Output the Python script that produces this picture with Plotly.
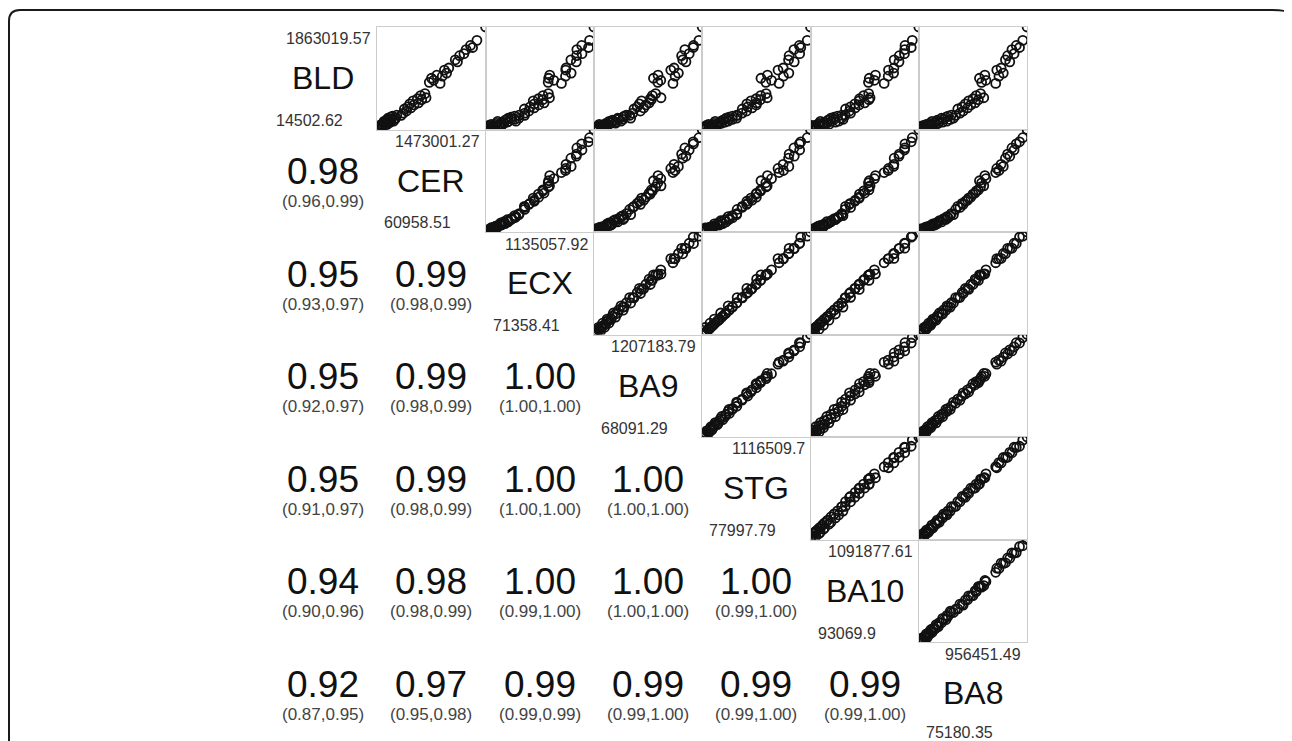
import plotly.graph_objects as go

# ---------------- data (values in thousands) ----------------
names = ["BLD", "CER", "ECX", "BA9", "STG", "BA10", "BA8"]

BLD_k = [14.50262, 51.5, 33.0, 70.0, 49.0, 35.5, 88.4, 54.0, 67.2, 106.9, 46.8, 91.0, 72.5,
         125.4, 85.6, 109.5, 162.4, 93.7, 143.9, 104.0, 180.9, 128.0, 159.5, 217.8, 146.5,
         199.4, 236.3, 165.0, 254.8, 196.5, 273.3, 220.6, 270.0, 384.2, 310.3, 421.2, 347.2,
         476.6, 402.7, 532.1, 458.1, 569.1, 495.1, 624.5, 550.6, 661.5, 587.5, 938.8, 864.8,
         994.2, 901.8, 846.3, 1086.6, 975.7, 1123.6, 1031.2, 1271.5, 1345.4, 1234.5, 1456.3,
         1382.4, 1530.3, 1493.3, 1622.7, 1863.01957]

CER_k = [60.95851, 75.1, 103.3, 89.2, 77.0, 101.0, 91.5, 117.4, 87.0, 119.8, 131.6, 105.6, 129.0,
         145.7, 134.2, 159.8, 148.3, 173.9, 157.1, 188.0, 176.5, 202.2, 216.3, 199.5, 230.4,
         244.5, 233.0, 272.8, 258.6, 286.9, 315.1, 301.0, 371.6, 414.0, 399.8, 456.3, 442.2,
         484.6, 498.7, 526.9, 541.0, 583.4, 597.5, 625.8, 639.9, 682.2, 696.4, 767.0, 738.7,
         837.6, 795.2, 879.9, 936.4, 908.2, 992.9, 964.6, 1077.6, 1134.1, 1105.8, 1218.8,
         1190.6, 1275.3, 1303.5, 1360.0, 1473.00127]

ECX_k = [71.35841, 76.7, 113.9, 92.6, 82.0, 124.5, 103.3, 145.8, 135.2, 126.1, 156.5, 147.0, 188.4,
         177.7, 167.1, 209.6, 190.2, 230.9, 229.0, 220.3, 262.8, 252.2, 294.7, 292.5, 284.1,
         326.6, 324.0, 369.2, 358.6, 356.0, 401.1, 398.5, 454.3, 452.0, 456.8, 507.5, 496.8,
         550.0, 547.6, 539.4, 592.6, 590.0, 645.8, 635.1, 633.0, 688.3, 698.9, 690.5, 685.9,
         701.2, 741.5, 816.0, 858.5, 856.0, 861.2, 911.7, 909.0, 964.9, 962.3, 967.5,
         1018.1, 1015.4, 1081.9, 1092.5, 1135.05792]

BA9_k = [68.09129, 102.3, 79.5, 104.0, 81.2, 113.7, 136.4, 115.5, 147.8, 125.0, 146.0, 182.0, 159.2,
         193.4, 170.6, 204.8, 227.6, 206.9, 250.3, 225.3, 261.7, 295.9, 273.1, 318.7, 293.5,
         330.1, 375.7, 352.9, 387.0, 373.2, 409.8, 455.4, 444.0, 489.6, 478.2, 523.7, 557.9,
         546.5, 592.1, 569.3, 614.9, 660.4, 649.0, 683.2, 671.8, 717.4, 774.3, 694.6, 740.2,
         742.8, 771.5, 899.6, 876.9, 922.4, 911.0, 956.6, 1002.2, 990.8, 1036.3, 1024.9,
         1070.5, 1116.1, 1113.0, 1173.0, 1207.18379]

STG_k = [77.99779, 88.4, 83.2, 109.2, 98.8, 140.3, 119.5, 111.0, 150.7, 138.5, 171.5, 161.1, 152.6,
         192.2, 181.9, 223.4, 202.6, 194.0, 244.2, 233.8, 275.3, 264.9, 254.5, 306.5, 296.1,
         337.6, 335.2, 327.2, 368.8, 366.1, 410.3, 408.0, 412.9, 462.2, 460.0, 514.2, 503.8,
         506.1, 555.7, 545.3, 597.3, 594.6, 600.0, 638.8, 636.2, 690.7, 701.1, 641.5, 688.0,
         703.8, 742.6, 815.3, 805.0, 856.9, 854.3, 908.8, 906.0, 911.5, 960.7, 958.0,
         1012.7, 1010.0, 1023.0, 1085.3, 1116.5097]

BA10_k = [93.0699, 98.1, 113.0, 103.1, 133.0, 123.0, 104.5, 143.0, 131.2, 173.0, 153.0, 141.0, 183.0,
          171.0, 212.9, 202.9, 185.2, 222.9, 220.5, 262.9, 252.9, 242.9, 282.8, 280.4, 322.8,
          312.8, 310.3, 352.8, 342.8, 392.7, 382.7, 380.1, 412.7, 416.0, 462.6, 460.2, 452.6,
          502.6, 505.0, 542.5, 540.1, 545.0, 592.5, 582.5, 632.4, 629.8, 642.4, 635.0, 627.5,
          692.4, 682.4, 772.3, 812.2, 809.6, 862.1, 859.5, 864.8, 912.1, 909.4, 962.0,
          959.5, 964.6, 1021.9, 1031.9, 1091.87761]

BA8_k = [75.18035, 84.0, 92.8, 94.1, 101.6, 110.4, 112.0, 119.2, 128.1, 136.9, 135.2, 145.7, 154.5,
         163.3, 172.1, 180.9, 182.6, 189.7, 207.4, 216.2, 225.0, 233.8, 242.6, 260.2, 269.1,
         277.9, 295.5, 304.3, 313.1, 330.8, 339.6, 357.2, 374.8, 392.4, 410.1, 427.7, 436.5,
         454.1, 471.8, 480.6, 498.2, 515.8, 533.4, 542.3, 559.9, 577.5, 603.9, 568.7, 586.3,
         612.8, 621.6, 700.9, 709.7, 727.3, 745.0, 762.6, 780.2, 797.8, 815.5, 833.1,
         850.7, 868.3, 894.8, 921.2, 956.45149]

# lower-triangle Pearson r with 95% CI (row = variable index, columns 0..row-1)
corr_r = [[], [0.98], [0.95, 0.99], [0.95, 0.99, 1.00], [0.95, 0.99, 1.00, 1.00],
          [0.94, 0.98, 1.00, 1.00, 1.00], [0.92, 0.97, 0.99, 0.99, 0.99, 0.99]]
corr_lo = [[], [0.96], [0.93, 0.98], [0.92, 0.98, 1.00], [0.91, 0.98, 1.00, 1.00],
           [0.90, 0.98, 0.99, 1.00, 0.99], [0.87, 0.95, 0.99, 0.99, 0.99, 0.99]]
corr_hi = [[], [0.99], [0.97, 0.99], [0.97, 0.99, 1.00], [0.97, 0.99, 1.00, 1.00],
           [0.96, 0.99, 1.00, 1.00, 1.00], [0.95, 0.98, 0.99, 1.00, 1.00, 1.00]]

series_k = [BLD_k, CER_k, ECX_k, BA9_k, STG_k, BA10_k, BA8_k]
series = [[v * 1000 for v in s] for s in series_k]

# ---------------- layout geometry ----------------
W, H = 1292, 741
OFF = 8  # page body margin
X0, CW = 269.0, 108.3
Y0, CH = 27.0, 102.5
FONT = "Liberation Sans, Arial, Helvetica, sans-serif"


def pxx(x):
    return (x - OFF) / W


def pxy(y):
    return 1 - (y - OFF) / H


def fmt(v):
    s = f"{v:.2f}".rstrip("0").rstrip(".")
    return s


n = len(names)
fig = go.Figure()
layout_axes = {}
k = 0
for i in range(n):
    for j in range(i + 1, n):
        k += 1
        sx = "" if k == 1 else str(k)
        xs, ys = series[j], series[i]
        fig.add_trace(go.Scatter(
            x=xs, y=ys, mode="markers",
            xaxis="x" + sx, yaxis="y" + sx,
            marker=dict(symbol="circle-open", size=9, color="#111111",
                        line=dict(width=1.8, color="#111111")),
            showlegend=False, hoverinfo="skip"))
        xl, xr = X0 + j * CW, X0 + (j + 1) * CW
        yt, yb = Y0 + i * CH, Y0 + (i + 1) * CH
        common = dict(showgrid=False, zeroline=False, showticklabels=False, ticks="",
                      showline=True, mirror=True, linecolor="#cccccc", linewidth=1)
        layout_axes["xaxis" + sx] = dict(domain=[pxx(xl), pxx(xr)],
                                         range=[min(xs), max(xs)],
                                         anchor="y" + sx, **common)
        layout_axes["yaxis" + sx] = dict(domain=[pxy(yb), pxy(yt)],
                                         range=[min(ys), max(ys)],
                                         anchor="x" + sx, **common)

annotations = []
for i in range(n):
    xl, xr = X0 + i * CW, X0 + (i + 1) * CW
    yt, yb = Y0 + i * CH, Y0 + (i + 1) * CH
    cx, cy = (xl + xr) / 2, (yt + yb) / 2
    min_dy = 9 if i < n - 1 else 12
    annotations.append(dict(x=pxx(cx), y=pxy(cy), xref="paper", yref="paper",
                            text=names[i], showarrow=False,
                            font=dict(family=FONT, size=32, color="#111111"),
                            xanchor="center", yanchor="middle"))
    annotations.append(dict(x=pxx(xr - 4), y=pxy(yt + 12), xref="paper", yref="paper",
                            text=fmt(max(series[i])), showarrow=False,
                            font=dict(family=FONT, size=16, color="#333333"),
                            xanchor="right", yanchor="middle"))
    annotations.append(dict(x=pxx(xl + 5), y=pxy(yb - min_dy), xref="paper", yref="paper",
                            text=fmt(min(series[i])), showarrow=False,
                            font=dict(family=FONT, size=16, color="#333333"),
                            xanchor="left", yanchor="middle"))
    for j in range(i):
        cxl = X0 + j * CW + CW / 2
        annotations.append(dict(x=pxx(cxl), y=pxy(cy - 9), xref="paper", yref="paper",
                                text=f"{corr_r[i][j]:.2f}", showarrow=False,
                                font=dict(family=FONT, size=37, color="#111111"),
                                xanchor="center", yanchor="middle"))
        annotations.append(dict(x=pxx(cxl), y=pxy(cy + 21), xref="paper", yref="paper",
                                text=f"({corr_lo[i][j]:.2f},{corr_hi[i][j]:.2f})",
                                showarrow=False,
                                font=dict(family=FONT, size=17, color="#444444"),
                                xanchor="center", yanchor="middle"))

# rounded outer frame (figure border)
r = 11
path = (f"M {pxx(9)},{pxy(770)} L {pxx(9)},{pxy(10 + r)} "
        f"Q {pxx(9)},{pxy(10)} {pxx(9 + r)},{pxy(10)} "
        f"L {pxx(1283 - r)},{pxy(10)} Q {pxx(1288)},{pxy(10)} {pxx(1290)},{pxy(14)} "
        f"L {pxx(1300)},{pxy(40)}")
shapes = [dict(type="path", path=path, xref="paper", yref="paper",
               line=dict(color="#1a1a1a", width=2))]

fig.update_layout(width=W, height=H, margin=dict(l=0, r=0, t=0, b=0),
                  paper_bgcolor="white", plot_bgcolor="white",
                  annotations=annotations, shapes=shapes, **layout_axes)

fig.write_html("out.html")
